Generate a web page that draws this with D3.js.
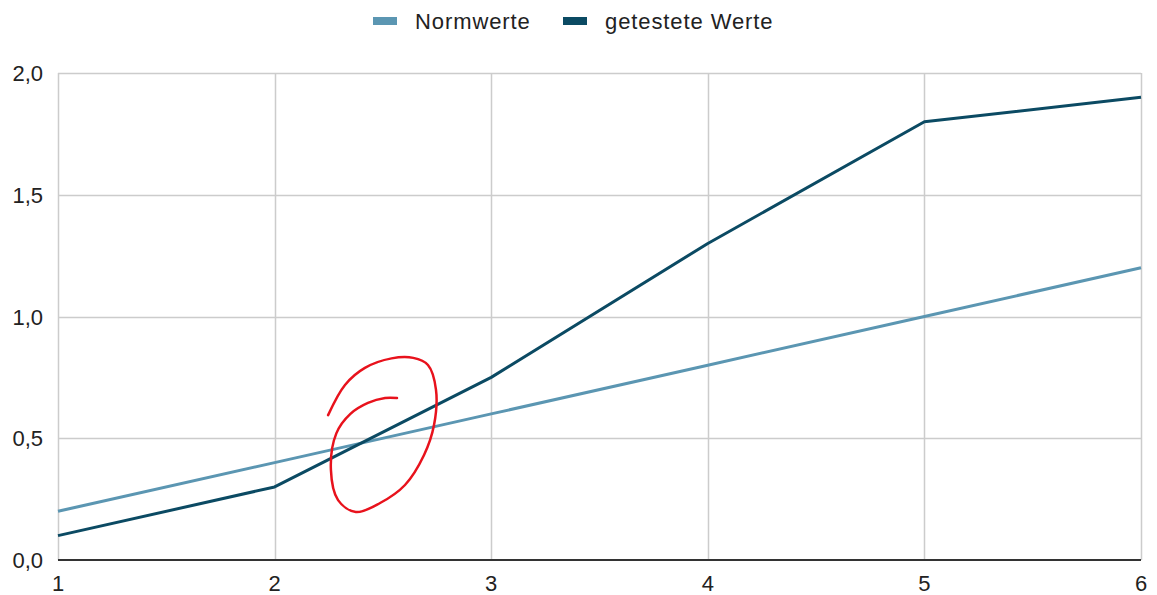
<!DOCTYPE html>
<html>
<head>
<meta charset="utf-8">
<script src="https://cdn.jsdelivr.net/npm/d3@7"></script>
<style>
  body { margin: 0; background: #fff; }
  text { font-family: "Liberation Sans", Arial, sans-serif; }
</style>
</head>
<body>
<div id="wrapper"></div>
<script>
const xValues = [1, 2, 3, 4, 5, 6]
const normwerte = [0.2, 0.4, 0.6, 0.8, 1.0, 1.2]
const getestet = [0.1, 0.3, 0.75, 1.3, 1.8, 1.9]
const yTicks = [0, 0.5, 1.0, 1.5, 2.0]
const seriesNames = ["Normwerte", "getestete Werte"]
// hand drawn red mark, in data units
const scribble = [
  [2.247, 0.595], [2.325, 0.719], [2.417, 0.789], [2.540, 0.828], [2.640, 0.830],
  [2.708, 0.801], [2.745, 0.700], [2.736, 0.554], [2.690, 0.431], [2.602, 0.308],
  [2.487, 0.234], [2.375, 0.197], [2.293, 0.246], [2.260, 0.370], [2.285, 0.520],
  [2.350, 0.600], [2.431, 0.645], [2.510, 0.665], [2.565, 0.665]
]

const dimensions = {
  width: 1157,
  height: 595,
  margin: { top: 73, right: 16, bottom: 35, left: 58 }
}
dimensions.boundedWidth = dimensions.width - dimensions.margin.left - dimensions.margin.right
dimensions.boundedHeight = dimensions.height - dimensions.margin.top - dimensions.margin.bottom

const colors = ["#5b96b2", "#0b4a63"]

const svg = d3.select("#wrapper").append("svg")
  .attr("width", dimensions.width)
  .attr("height", dimensions.height)

const bounds = svg.append("g")
  .attr("transform", `translate(${dimensions.margin.left},${dimensions.margin.top})`)

const xScale = d3.scaleLinear().domain([1, 6]).range([0, dimensions.boundedWidth])
const yScale = d3.scaleLinear().domain([0, 2]).range([dimensions.boundedHeight, 0])

const fmt = d => d3.format(".1f")(d).replace(".", ",")

// grid
bounds.append("g").selectAll("line").data(yTicks.slice(1)).join("line")
  .attr("x1", 0).attr("x2", dimensions.boundedWidth)
  .attr("y1", d => Math.round(yScale(d)) + 0.5).attr("y2", d => Math.round(yScale(d)) + 0.5)
  .attr("stroke", "#cccccc").attr("stroke-width", 1.5)
bounds.append("g").selectAll("line").data(xValues).join("line")
  .attr("x1", d => Math.round(xScale(d)) + 0.5).attr("x2", d => Math.round(xScale(d)) + 0.5)
  .attr("y1", 0).attr("y2", dimensions.boundedHeight)
  .attr("stroke", "#cccccc").attr("stroke-width", 1.5)

// y labels
bounds.append("g").selectAll("text").data(yTicks).join("text")
  .attr("x", -15).attr("y", d => yScale(d) + 8)
  .attr("text-anchor", "end")
  .attr("font-size", 22).attr("fill", "#222")
  .text(fmt)

// x labels
bounds.append("g").selectAll("text").data(xValues).join("text")
  .attr("x", d => xScale(d)).attr("y", dimensions.boundedHeight + 31)
  .attr("text-anchor", "middle")
  .attr("font-size", 22).attr("fill", "#222")
  .text(d => d)

// baseline
bounds.append("line")
  .attr("x1", 0).attr("x2", dimensions.boundedWidth)
  .attr("y1", dimensions.boundedHeight).attr("y2", dimensions.boundedHeight)
  .attr("stroke", "#333").attr("stroke-width", 2)

const line = d3.line()
  .x((d, i) => xScale(xValues[i]))
  .y(d => yScale(d))

;[normwerte, getestet].forEach((s, i) => {
  bounds.append("path")
    .datum(s)
    .attr("d", line)
    .attr("fill", "none")
    .attr("stroke", colors[i])
    .attr("stroke-width", 3)
    .attr("stroke-linejoin", "round")
})

// red mark
bounds.append("path")
  .datum(scribble)
  .attr("d", d3.line().x(d => xScale(d[0])).y(d => yScale(d[1])).curve(d3.curveCatmullRom))
  .attr("fill", "none")
  .attr("stroke", "#e8121c")
  .attr("stroke-width", 2.5)
  .attr("stroke-linecap", "round")

// legend
const legendPos = [373, 563]
const legend = svg.append("g")
legend.selectAll("rect").data(seriesNames).join("rect")
  .attr("x", (d, i) => legendPos[i]).attr("y", 17)
  .attr("width", 24).attr("height", 8)
  .attr("fill", (d, i) => colors[i])
legend.selectAll("text").data(seriesNames).join("text")
  .attr("x", (d, i) => legendPos[i] + 42).attr("y", 29)
  .attr("font-size", 22).attr("fill", "#222")
  .attr("letter-spacing", 0.9)
  .text(d => d)
</script>
</body>
</html>
